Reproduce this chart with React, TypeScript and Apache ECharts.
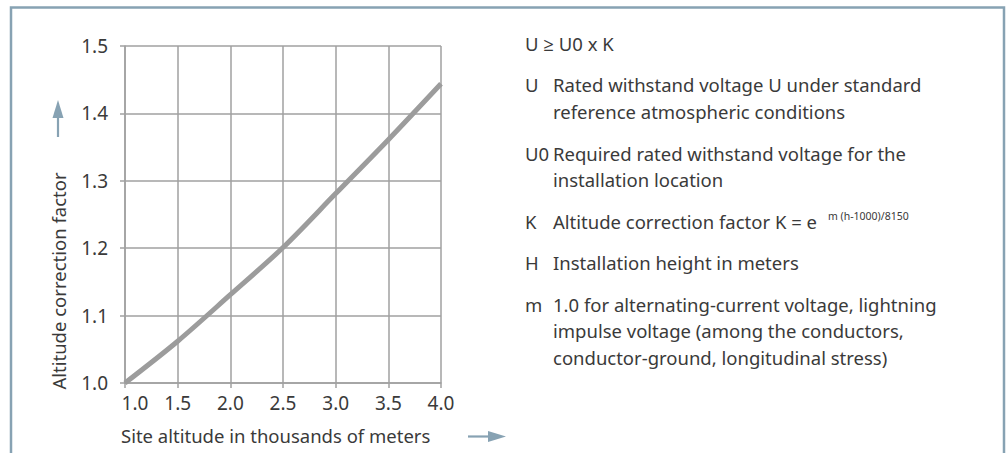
import React, { useEffect, useRef } from "react";
import * as echarts from "echarts";

const altitudes = [1.0, 1.5, 2.0, 2.5, 3.0, 3.5, 4.0];
const factors = [1.0, 1.062, 1.131, 1.201, 1.281, 1.361, 1.444];

const xAxisName = "Site altitude in thousands of meters";
const yAxisName = "Altitude correction factor";

const formulaLine = "U ≥ U0 x K";
const legendKeys = ["U", "U0", "K", "H", "m"];
const legendTexts = [
  ["Rated withstand voltage U under standard", "reference atmospheric conditions"],
  ["Required rated withstand voltage for the", "installation location"],
  ["Altitude correction factor K = e"],
  ["Installation height in meters"],
  [
    "1.0 for alternating-current voltage, lightning",
    "impulse voltage (among the conductors,",
    "conductor-ground, longitudinal stress)",
  ],
];
const superscript = "m (h-1000)/8150";

const FONT = '"Noto Sans", "Open Sans", sans-serif';
const TEXT = "#3a3a3a";
const FRAME = "#87a2b3";
const FS = 18.5;

export default function App() {
  const ref = useRef<HTMLDivElement>(null);
  useEffect(() => {
    if (!ref.current) return;
    const chart = echarts.init(ref.current, null, { renderer: "svg" });

    const graphics: any[] = [];
    graphics.push({
      type: "polyline",
      shape: { points: [[11, 460], [11, 7.5], [1004, 7.5], [1004, 460]] },
      style: { stroke: FRAME, lineWidth: 2.5, fill: "none" },
      silent: true,
    });
    graphics.push({
      type: "text",
      x: 58,
      y: 281,
      rotation: Math.PI / 2,
      style: {
        text: yAxisName,
        font: `${FS}px ${FONT}`,
        fill: TEXT,
        align: "center",
        verticalAlign: "middle",
      },
    });
    graphics.push({
      type: "text",
      x: 121,
      y: 435,
      style: {
        text: xAxisName,
        font: `${FS}px ${FONT}`,
        fill: TEXT,
        align: "left",
        verticalAlign: "middle",
      },
    });
    graphics.push({
      type: "line",
      shape: { x1: 58, y1: 137, x2: 58, y2: 112 },
      style: { stroke: FRAME, lineWidth: 2.2 },
    });
    graphics.push({
      type: "polygon",
      shape: { points: [[58, 100], [52.5, 118], [63.5, 118]] },
      style: { fill: FRAME },
    });
    graphics.push({
      type: "line",
      shape: { x1: 468, y1: 436.5, x2: 494, y2: 436.5 },
      style: { stroke: FRAME, lineWidth: 2.2 },
    });
    graphics.push({
      type: "polygon",
      shape: { points: [[506, 436.5], [488, 431], [488, 442]] },
      style: { fill: FRAME },
    });

    const txt = (s: string, x: number, y: number, size = FS) => ({
      type: "text",
      x,
      y,
      style: {
        text: s,
        font: `${size}px ${FONT}`,
        fill: TEXT,
        align: "left",
        verticalAlign: "middle",
      },
    });
    graphics.push(txt(formulaLine, 525, 43));
    const rowStarts = [84.5, 153, 221, 262, 304];
    legendKeys.forEach((k, i) => {
      graphics.push(txt(k, 525, rowStarts[i]));
      legendTexts[i].forEach((line, j) => {
        graphics.push(txt(line, 553, rowStarts[i] + j * 26.5));
      });
    });
    graphics.push(txt(superscript, 828, 216, 10.5));

    const axisGray = "#a0a0a0";
    chart.setOption({
      animation: false,
      backgroundColor: "#ffffff",
      grid: { left: 125, top: 46, width: 316, height: 337, containLabel: false },
      xAxis: {
        type: "value",
        min: 1,
        max: 4,
        interval: 0.5,
        axisLine: { show: true, lineStyle: { color: axisGray, width: 1.5 } },
        axisTick: { show: true, length: 5, lineStyle: { color: axisGray, width: 1.5 } },
        splitLine: { show: true, lineStyle: { color: axisGray, width: 1.5 } },
        axisLabel: {
          margin: 10,
          fontSize: 19,
          fontFamily: FONT,
          color: TEXT,
          formatter: (v: number) => (v === 1 ? "{a|" + v.toFixed(1) + "}" : v.toFixed(1)),
          rich: { a: { fontSize: 19, fontFamily: FONT, color: TEXT, padding: [0, 0, 0, 20] } },
        },
      },
      yAxis: {
        type: "value",
        min: 1,
        max: 1.5,
        interval: 0.1,
        axisLine: { show: true, lineStyle: { color: axisGray, width: 1.5 } },
        axisTick: { show: true, length: 5, lineStyle: { color: axisGray, width: 1.5 } },
        splitLine: { show: true, lineStyle: { color: axisGray, width: 1.5 } },
        axisLabel: {
          margin: 17,
          fontSize: 19,
          fontFamily: FONT,
          color: TEXT,
          formatter: (v: number) => v.toFixed(1),
        },
      },
      series: [
        {
          type: "line",
          data: altitudes.map((a, i) => [a, factors[i]]),
          smooth: 0.3,
          symbol: "none",
          lineStyle: { color: "#9c9c9c", width: 5 },
          z: 5,
        },
      ],
      graphic: graphics,
    });
    return () => chart.dispose();
  }, []);

  return (
    <div
      ref={ref}
      style={{ position: "fixed", left: 0, top: 0, width: 1008, height: 453, background: "#fff" }}
    />
  );
}
